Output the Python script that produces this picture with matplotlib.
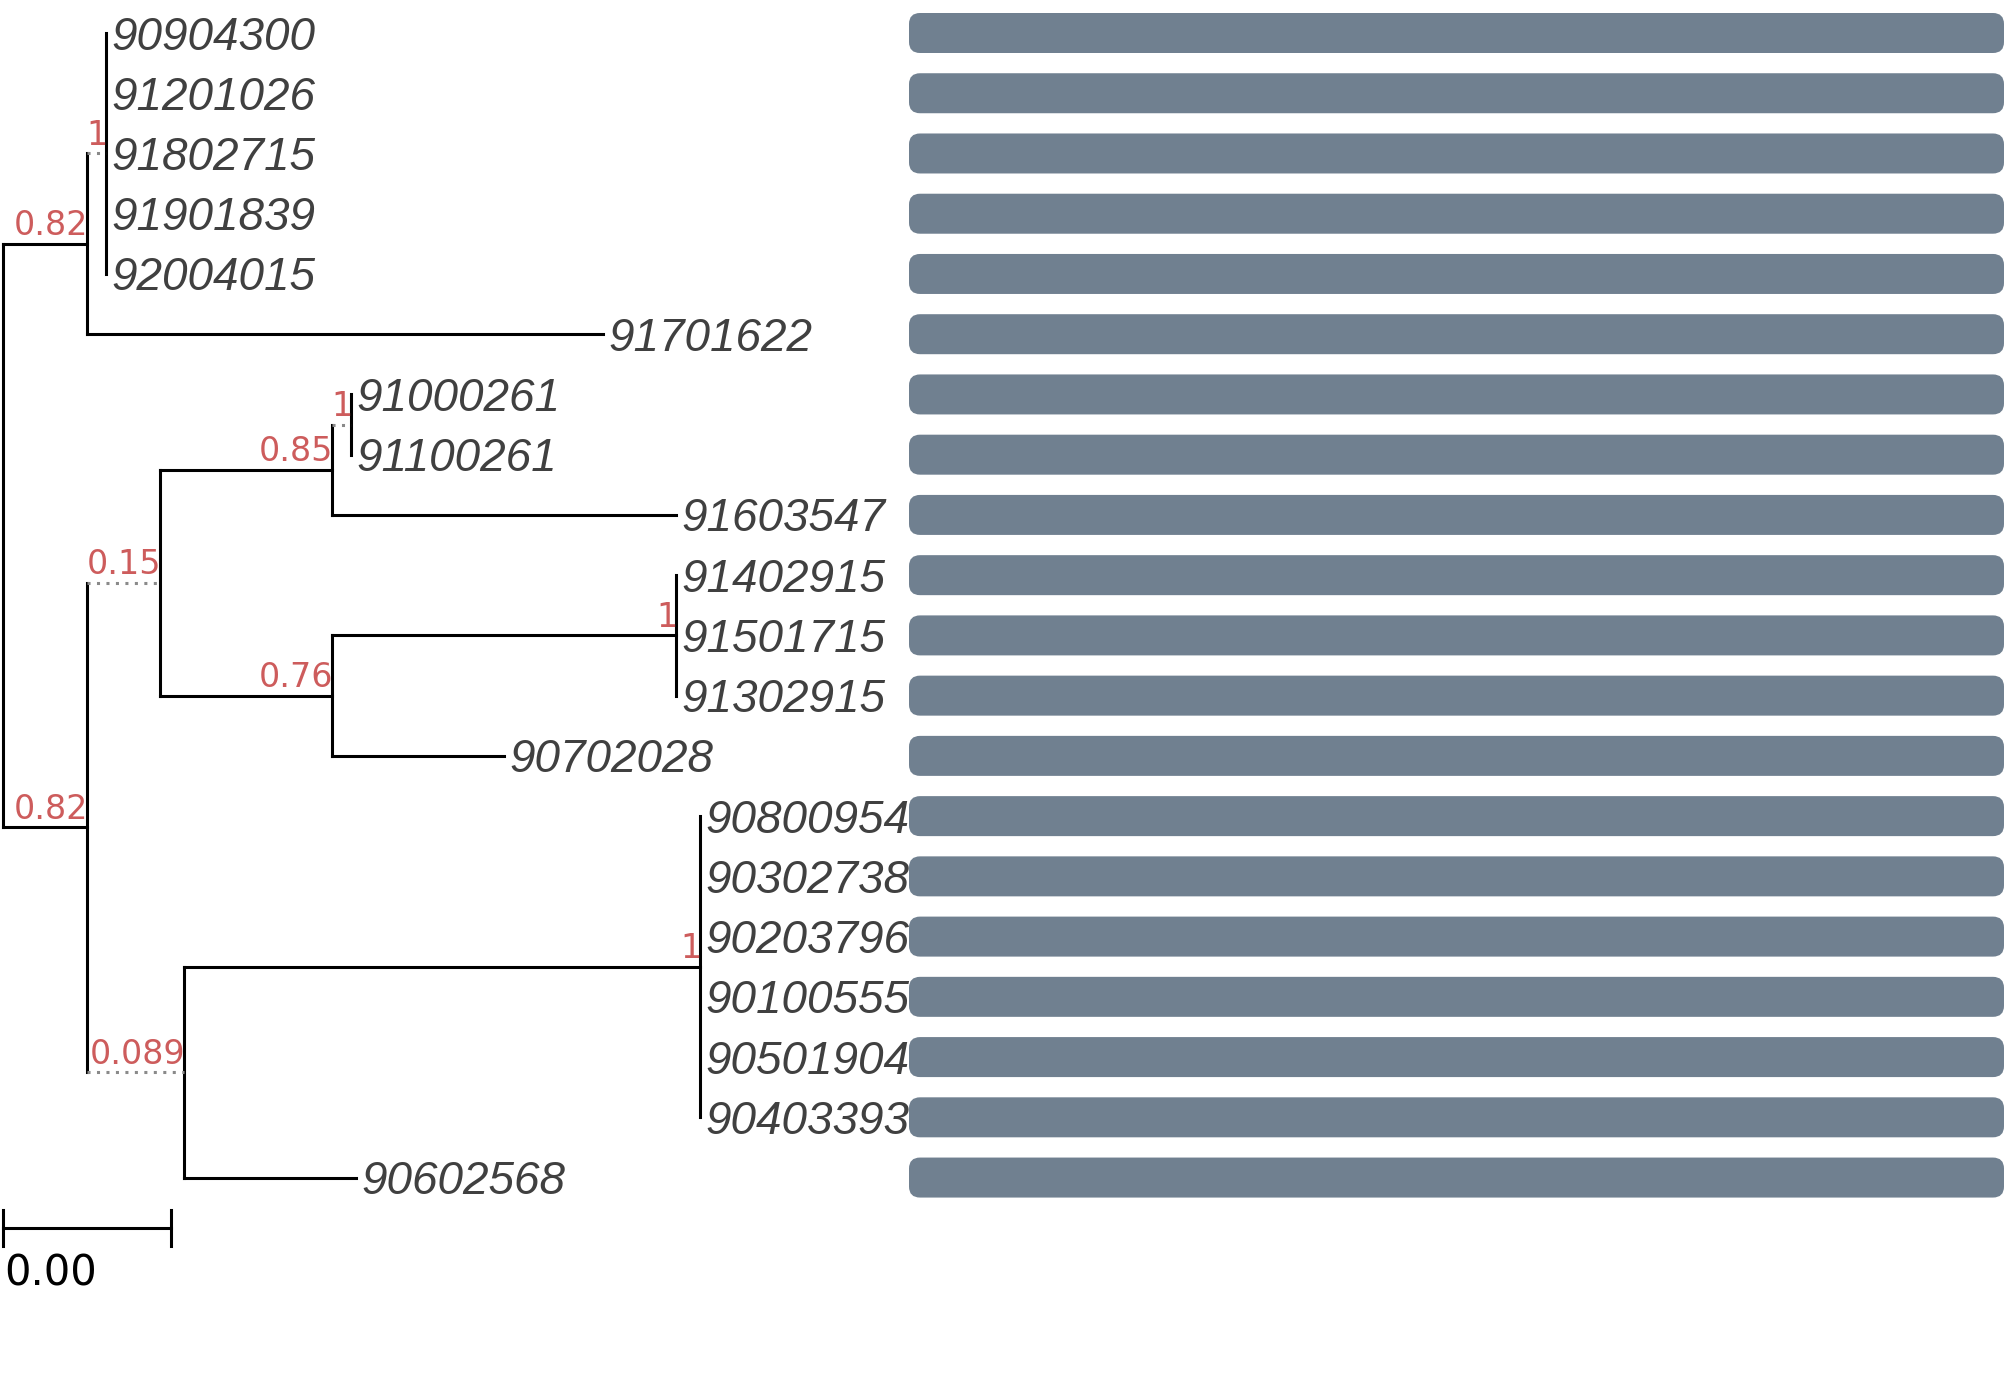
import numpy as np
import matplotlib.pyplot as plt
from matplotlib.collections import LineCollection
from matplotlib.patches import FancyBboxPatch

# tips, top to bottom
tip_labels = ["90904300", "91201026", "91802715", "91901839", "92004015",
              "91701622", "91000261", "91100261", "91603547", "91402915",
              "91501715", "91302915", "90702028", "90800954", "90302738",
              "90203796", "90100555", "90501904", "90403393", "90602568"]

# tree edges: parent -> child with branch length
edge_parent = ["root", "A", "A1", "A1", "A1", "A1", "A1", "A",
               "root", "B", "B1", "B1a", "B1a1", "B1a1", "B1a",
               "B1", "B1b", "B1b1", "B1b1", "B1b1", "B1b",
               "B", "B2", "B2a", "B2a", "B2a", "B2a", "B2a", "B2a", "B2"]
edge_child = ["A", "A1", "90904300", "91201026", "91802715", "91901839", "92004015", "91701622",
              "B", "B1", "B1a", "B1a1", "91000261", "91100261", "91603547",
              "B1b", "B1b1", "91402915", "91501715", "91302915", "90702028",
              "B2", "B2a", "90800954", "90302738", "90203796", "90100555", "90501904", "90403393", "90602568"]
edge_length = [0.00098, 0.00022, 0, 0, 0, 0, 0, 0.006,
               0.00098, 0.00085, 0.002, 0.00022, 0, 0, 0.004,
               0.002, 0.004, 0, 0, 0, 0.002,
               0.00113, 0.006, 0, 0, 0, 0, 0, 0, 0.002]

# node support
support_nodes = ["A1", "A", "B1a1", "B1a", "B1", "B1b1", "B1b", "B", "B2", "B2a"]
support_values = ["1", "0.82", "1", "0.85", "0.15", "1", "0.76", "0.82", "0.089", "1"]

# right panel bars
bar_values = [1, 1, 1, 1, 1, 1, 1, 1, 1, 1, 1, 1, 1, 1, 1, 1, 1, 1, 1, 1]

scale_width = 0.00195
scale_label = "0.00"

# styling
dotted_edges = ["A1", "B1", "B2", "B1a1"]
W, H, DPI = 2007, 1379, 100
px_per_unit = 86000.0
row_px = 60.24
row0_px = 33.0
root_px = 3.0
tree_lw = 2.2

# layout
children = {}
for p, c, l in zip(edge_parent, edge_child, edge_length):
    children.setdefault(p, []).append(c)
parent_of = dict(zip(edge_child, edge_parent))
length_of = dict(zip(edge_child, edge_length))

xpos = {"root": 0.0}
def set_x(n):
    for c in children.get(n, []):
        xpos[c] = xpos[n] + length_of[c]
        set_x(c)
set_x("root")

ypos = {t: i for i, t in enumerate(tip_labels)}
def set_y(n):
    if n in ypos:
        return ypos[n]
    ys = [set_y(c) for c in children[n]]
    ypos[n] = np.mean(ys)
    return ypos[n]
set_y("root")

fig = plt.figure(figsize=(W / DPI, H / DPI), dpi=DPI)
fig.patch.set_facecolor("white")
ax = fig.add_axes([0, 0, 1, 1])
ax.set_xlim(-root_px / px_per_unit, (W - root_px) / px_per_unit)
ax.set_ylim((H - row0_px) / row_px, -row0_px / row_px)
ax.axis("off")

solid, dotted = [], []
for c in edge_child:
    p = parent_of[c]
    if length_of[c] > 0:
        seg = [(xpos[p], ypos[c]), (xpos[c], ypos[c])]
        (dotted if c in dotted_edges else solid).append(seg)
for n, kids in children.items():
    ys = [ypos[k] for k in kids]
    solid.append([(xpos[n], min(ys)), (xpos[n], max(ys))])

ax.add_collection(LineCollection(solid, colors="black", linewidths=tree_lw,
                                 capstyle="projecting", zorder=2))
ax.add_collection(LineCollection(dotted, colors="#8a8a8a", linewidths=tree_lw,
                                 linestyles=[(0, (1, 2.1))], zorder=2))

for t in tip_labels:
    ax.annotate(t, (xpos[t], ypos[t]), xytext=(5, -16.5), textcoords="offset pixels",
                ha="left", va="baseline", fontsize=33, fontstyle="italic",
                family="Liberation Sans", color="#404040", zorder=4)

for n, s in zip(support_nodes, support_values):
    ax.annotate(s, (xpos[n], ypos[n]), xytext=(1, 8.5), textcoords="offset pixels",
                ha="right", va="baseline", fontsize=24, family="DejaVu Sans",
                color="#CD5C5C", zorder=4)

# scale bar
sy = len(tip_labels) - 1 + 0.84
tick = 0.3
ax.plot([0, scale_width], [sy, sy], color="black", lw=tree_lw)
ax.plot([0, 0], [sy - tick, sy + tick], color="black", lw=tree_lw)
ax.plot([scale_width, scale_width], [sy - tick, sy + tick], color="black", lw=tree_lw)
ax.annotate(scale_label, (0, sy), xytext=(1, -57), textcoords="offset pixels",
            ha="left", va="baseline", fontsize=30, family="DejaVu Sans", color="black")

# bar panel
bx0, bx1 = 909, 2004
axb = fig.add_axes([bx0 / W, 0, (bx1 - bx0) / W, 1])
axb.set_ylim(ax.get_ylim())
vmax = max(bar_values)
axb.set_xlim(0, vmax)
axb.axis("off")
xu = vmax / (bx1 - bx0)
yu = 1.0 / row_px
bar_h = 40 / row_px
for i, v in enumerate(bar_values):
    axb.add_patch(FancyBboxPatch((0, i - bar_h / 2), v, bar_h,
                                 boxstyle="round,pad=0,rounding_size=%f" % (11 * xu),
                                 mutation_aspect=yu / xu,
                                 fc="#708090", ec="none"))

fig.savefig("out.png", dpi=DPI)
